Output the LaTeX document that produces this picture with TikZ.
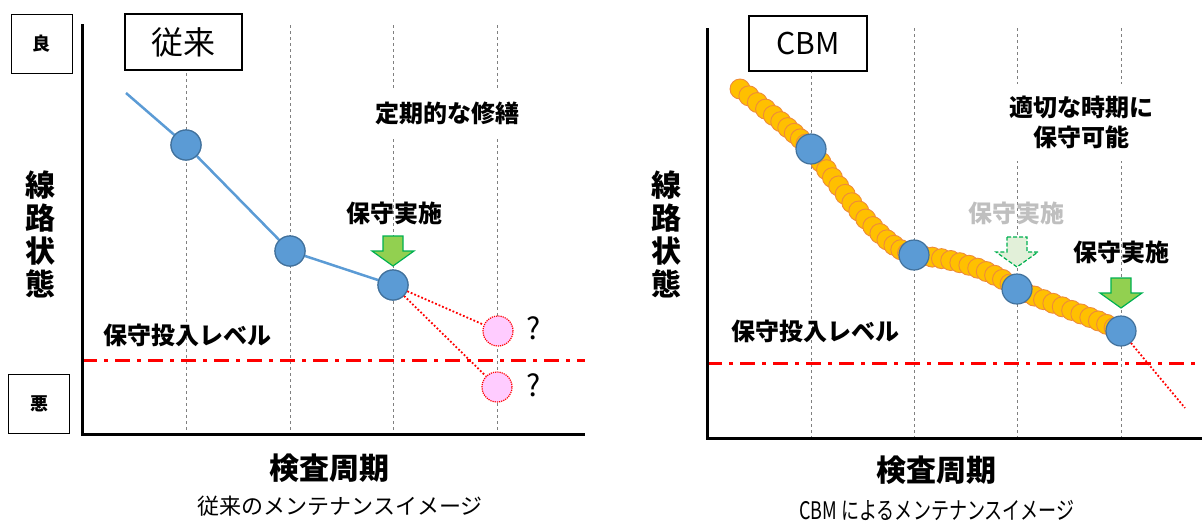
\documentclass[tikz,border=0pt]{standalone}
\usepackage{fontspec}
\setmainfont{Noto Sans CJK JP}
\definecolor{blueFill}{HTML}{5B9BD5}
\definecolor{blueLine}{HTML}{41719C}
\definecolor{gridGray}{HTML}{808080}
\definecolor{greenFill}{HTML}{92D050}
\definecolor{greenLine}{HTML}{00B050}
\definecolor{paleGreen}{HTML}{E2F0D9}
\definecolor{beadFill}{HTML}{FFC000}
\definecolor{beadLine}{HTML}{EE8A3A}
\definecolor{pinkFill}{HTML}{FFCCFF}
\definecolor{fadedText}{HTML}{BFBFBF}
\newcommand{\fs}[1]{\fontsize{#1}{#1}\selectfont}
\newcommand{\beadseg}[6]{%
  \foreach \bi in {#6,...,#5} {%
    \pgfmathsetmacro\bt{\bi/#5}%
    \path #1 .. controls #2 and #3 .. #4 node[beadn,pos=\bt]{};}}
\begin{document}
\begin{tikzpicture}[x=1pt,y=-1pt,
  axis/.style={line width=3pt,black},
  gridline/.style={gridGray,line width=0.7pt,dash pattern=on 3pt off 3pt},
  level/.style={red,line width=3pt,dash pattern=on 15pt off 7pt on 4pt off 7pt},
  ptcirc/.style={circle,fill=blueFill,draw=blueLine,line width=1.2pt,minimum size=30pt,inner sep=0pt},
  pinkcirc/.style={circle,fill=pinkFill,draw=red,densely dotted,line width=1.2pt,minimum size=30pt,inner sep=0pt},
  beadn/.style={circle,fill=beadFill,draw=beadLine,line width=0.9pt,minimum size=20pt,inner sep=0pt},
  goodbad/.style={draw=black,line width=1pt,minimum width=61pt,minimum height=59pt,inner sep=0pt,font=\fs{18}\bfseries},
  titlebox/.style={draw=black,fill=white,line width=2.5pt,inner sep=0pt},
  lbl/.style={inner sep=0pt,font=\fs{24}\bfseries},
  qmark/.style={inner sep=0pt,font=\fs{30}},
  vlbl/.style={inner sep=0pt,align=center,font=\fontsize{30}{33}\selectfont\bfseries},
  xlbl/.style={inner sep=0pt,font=\fs{30}\bfseries},
  caption/.style={inner sep=0pt,font=\fs{22}},
  greenarrow/.style={fill=greenFill,draw=greenLine,line width=1.2pt,line join=miter},
  fadedarrow/.style={fill=paleGreen,draw=greenLine,line width=1.2pt,dash pattern=on 4pt off 2pt},
  reddot/.style={red,line width=1.8pt,dotted},
  bluepath/.style={blueFill,line width=2.5pt}
]
\useasboundingbox (0,0) rectangle (1202,520);

% ================= LEFT CHART =================
\foreach \gx in {186,290,393,497} \draw[gridline] (\gx,25) -- (\gx,434);
\draw[level] (82,360) -- (585,360);
\draw[axis] (82,24) -- (82,434) -- (585,434);

\node[goodbad] (good) at (41.5,44) {良};
\node[goodbad] (bad) at (39,403.5) {\raisebox{-4pt}{悪}};
\node[titlebox,minimum width=117pt,minimum height=56pt,font=\fs{32}] (ttl) at (183.5,42) {従来};
\node[vlbl] (yL) at (40,234) {線\\路\\状\\態};

\node[lbl,fill=white,minimum height=46pt,inner xsep=3pt] (teiki) at (447,113) {定期的な修繕};
\node[lbl] (hoshuL) at (394,213) {保守実施};
\node[lbl] (levL) at (187,335) {保守投入レベル};
\node[xlbl] (xL) at (329,468) {検査周期};
\node[caption] (capL) at (340,506) {従来のメンテナンスイメージ};

\coordinate (startL) at (126,93);
\node[ptcirc] (a1) at (186,145) {};
\node[ptcirc] (a2) at (290,251) {};
\node[ptcirc] (a3) at (393,285) {};
\node[pinkcirc] (p1) at (498,331) {};
\node[pinkcirc] (p2) at (497,387) {};
\node[qmark] (q1) at (534,328) {?};
\node[qmark] (q2) at (534,385) {?};

\draw[bluepath] (startL) -- (a1.center) -- (a2.center) -- (a3.center);
\node[ptcirc] at (a1) {};
\node[ptcirc] at (a2) {};
\node[ptcirc] at (a3) {};
\draw[reddot] (a3) -- (p1);
\draw[reddot] (a3) -- (p2);

\draw[greenarrow] (383,236) -- (403,236) -- (403,251) -- (414,251) -- (393,266) -- (372,251) -- (383,251) -- cycle;

% ================= RIGHT CHART =================
\foreach \gx in {811,914,1017,1121} \draw[gridline] (\gx,28) -- (\gx,438);
\draw[level] (707,363) -- (1202,363);
\draw[axis] (707,28) -- (707,438) -- (1202,438);

\node[titlebox,minimum width=118pt,minimum height=55pt,font=\fs{30}] (cbm) at (808,43.5) {CBM};
\node[vlbl] (yR) at (666,234) {線\\路\\状\\態};
\node[lbl,fill=white,align=center,minimum height=77pt,inner xsep=3pt,font=\fontsize{24}{30}\selectfont\bfseries] (tekisetsu) at (1081,122) {適切な時期に\\保守可能};
\node[lbl,text=fadedText] (hoshuG) at (1016,213) {保守実施};
\node[lbl] (hoshuR) at (1121,252) {保守実施};
\node[lbl] (levR) at (815,331) {保守投入レベル};
\node[xlbl] (xR) at (936,470) {検査周期};
\node[caption] (capR) at (937,510) {\scalebox{0.82}[1.1]{CBM によるメンテナンスイメージ}};

% bead chain
\beadseg{(740,89)}{(770,112)}{(795,133)}{(811,149)}{10}{0}
\beadseg{(811,149)}{(835,180)}{(880,248)}{(914,255)}{16}{1}
\beadseg{(914,255)}{(950,258)}{(990,268)}{(1017,289)}{12}{1}
\beadseg{(1017,289)}{(1050,303)}{(1095,318)}{(1121,331)}{12}{1}

\node[ptcirc] (b1) at (811,149) {};
\node[ptcirc] (b2) at (914,255) {};
\node[ptcirc] (b3) at (1017,289) {};
\node[ptcirc] (b4) at (1121,331) {};
\coordinate (endR) at (1185,408);
\draw[reddot] (b4) -- (endR);

\draw[fadedarrow] (1007,237) -- (1027,237) -- (1027,252) -- (1038,252) -- (1017,267) -- (996,252) -- (1007,252) -- cycle;
\draw[greenarrow] (1111,278) -- (1131,278) -- (1131,293) -- (1142,293) -- (1121,308) -- (1100,293) -- (1111,293) -- cycle;
\end{tikzpicture}
\end{document}
